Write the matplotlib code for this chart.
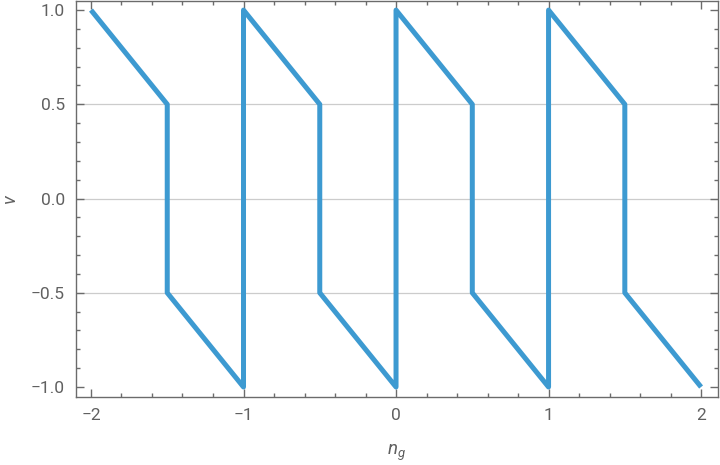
import numpy as np
import matplotlib.pyplot as plt
from matplotlib.ticker import MultipleLocator

# sawtooth-like v(n_g) curve
ng = [-2, -1.5, -1.5, -1, -1, -0.5, -0.5, 0, 0, 0.5, 0.5, 1, 1, 1.5, 1.5, 2]
v = [1, 0.5, -0.5, -1, 1, 0.5, -0.5, -1, 1, 0.5, -0.5, -1, 1, 0.5, -0.5, -1]

xticks = [-2, -1, 0, 1, 2]
xticklabels = ['\u22122', '\u22121', '0', '1', '2']
yticks = [-1.0, -0.5, 0.0, 0.5, 1.0]
yticklabels = ['\u22121.0', '\u22120.5', '0.0', '0.5', '1.0']

plt.rcParams['font.family'] = ['Roboto', 'DejaVu Sans']
plt.rcParams['mathtext.fontset'] = 'custom'
plt.rcParams['mathtext.it'] = 'Roboto:italic'
plt.rcParams['mathtext.rm'] = 'Roboto'

fig = plt.figure(figsize=(7.2, 4.65), dpi=100)
ax = fig.add_axes([0.1056, 0.1462, 0.891, 0.8516])

frame = '#6b6b6b'
txt = '#606060'

for yg in [-0.5, 0, 0.5]:
    ax.axhline(yg, color='#cccccc', lw=0.9, zorder=1)

ax.plot(ng, v, color='#3d9ad1', lw=3.6, solid_capstyle='butt', zorder=3)

ax.set_xlim(-2.098, 2.108)
ax.set_ylim(-1.053, 1.048)

ax.set_xticks(xticks)
ax.set_xticklabels(xticklabels)
ax.set_yticks(yticks)
ax.set_yticklabels(yticklabels)
ax.xaxis.set_minor_locator(MultipleLocator(0.2))
ax.yaxis.set_minor_locator(MultipleLocator(0.1))

ax.tick_params(which='both', direction='in', top=True, right=True,
               color=frame, width=1.0, labelsize=12.5, labelcolor=txt)
ax.tick_params(which='major', length=5.5, pad=8)
ax.tick_params(which='minor', length=3.2)

for s in ax.spines.values():
    s.set_color(frame)
    s.set_linewidth(1.0)

ax.set_xlabel('$n_g$', fontsize=13.5, color=txt, labelpad=14)
ax.set_ylabel('$v$', fontsize=13.5, color=txt, labelpad=8)

plt.savefig('out.png', dpi=100)
